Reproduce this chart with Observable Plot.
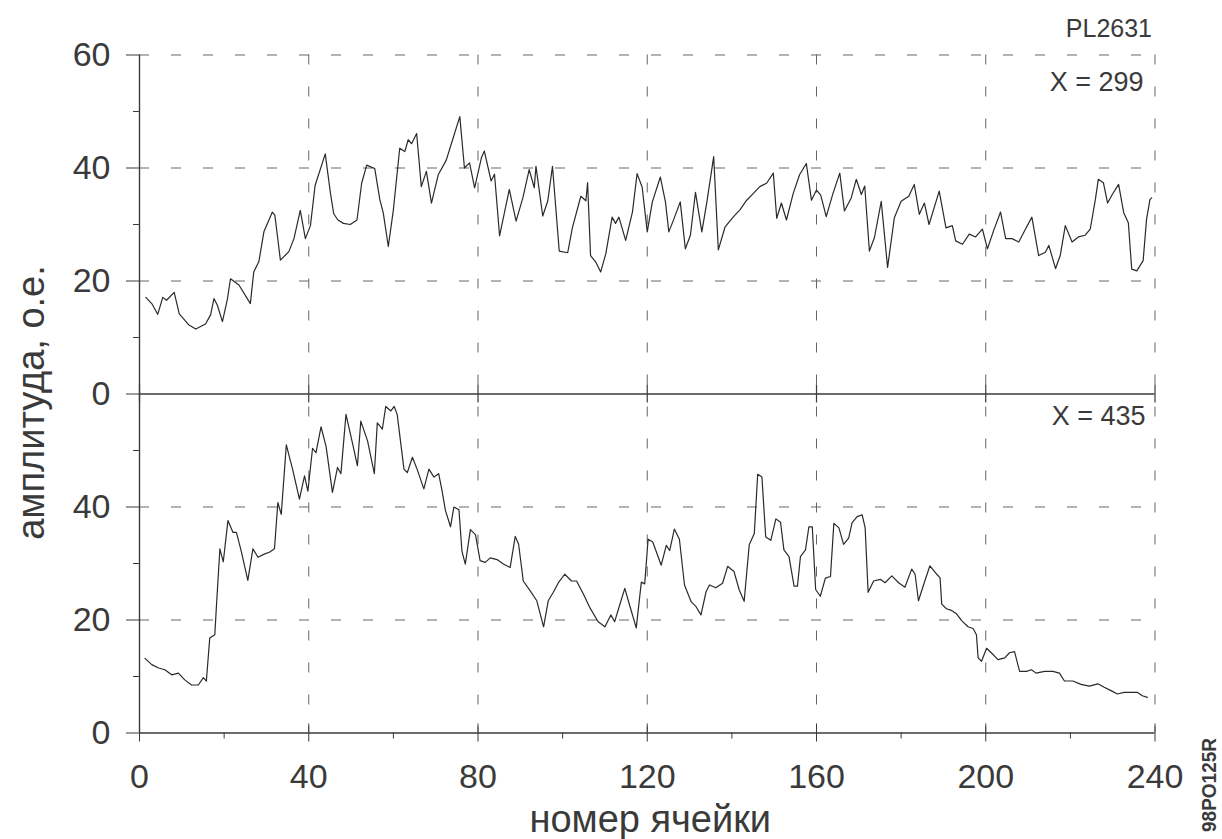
<!DOCTYPE html>
<html><head><meta charset="utf-8">
<script src="https://cdn.jsdelivr.net/npm/d3@7"></script>
<script src="https://cdn.jsdelivr.net/npm/@observablehq/plot@0.6"></script>
<style>
html,body{margin:0;padding:0;background:#fff;}
</style></head><body><div id="chart"></div>
<script>
// ---- data ----
const cellTop = [1.5,3,4.3,5.5,6.4,8.2,9.4,11.7,13.3,15.6,16.8,17.6,18.4,19.6,20.8,21.5,23.5,26.2,27,28.2,29.4,31.4,32,33.3,35.3,36.5,38,39.2,40.4,41.5,43.9,45.1,45.9,46.9,48.2,49.8,51.4,52.5,53.7,55.6,56.8,57.6,58.8,60,61.5,62.7,63.5,64.3,65.5,66.6,67.8,69,70.6,72.5,73.7,75.7,76.8,78,79.2,80.8,81.5,83.1,83.9,85.1,87.4,89,90.6,92.1,93.3,93.7,95.3,96.5,97.6,99.2,101.2,102.3,104.3,105.5,105.9,106.6,107.8,109,110.2,111.7,112.5,113.3,114.9,116.5,117.6,118.8,120,121.2,123.1,124.3,125.1,126.3,127.8,129,130.2,131.4,132.9,134.1,135.7,136.8,138.4,140.4,141.9,143.5,145.1,146.6,148.2,149.8,150.6,151.7,152.9,154.5,156,157.6,158.8,160,161,162.3,163.9,165.5,166.6,168.2,169.4,170.6,171.4,172.5,173.7,175.3,176.8,178.4,180,181.8,183.1,184.3,185.5,186.6,189,190.6,192.1,192.9,194.5,196.1,197.6,199.2,200.4,201.9,203.5,204.7,206.2,207.8,209.4,210.9,212.5,214.1,214.9,216.5,217.6,218.8,220.4,221.9,223.5,224.7,225.9,226.6,227.8,228.8,229.9,231.4,232.6,233.7,234.5,235.7,237.2,238,238.8,239.2];
const ampTop = [17.1,15.9,14.1,17.1,16.6,18.0,14.2,12.2,11.5,12.4,14.0,16.9,15.7,12.8,16.9,20.4,19.3,16.0,21.6,23.4,28.7,32.2,31.6,23.7,25.2,27.5,32.5,27.5,29.8,36.9,42.5,35.7,31.9,30.8,30.2,30.0,30.8,37.3,40.5,39.9,34.4,32.1,26.1,32.6,43.5,42.9,45.0,44.3,46.1,36.7,39.4,33.8,38.8,41.4,44.3,49.1,40.0,40.9,36.5,41.8,43.0,37.7,38.9,28.0,36.2,30.6,34.7,39.7,36.5,40.3,31.5,34.2,40.3,25.3,25.0,29.4,35.0,34.2,37.4,24.5,23.4,21.6,24.8,31.3,30.2,31.3,27.2,32.2,39.0,36.6,28.7,34.0,38.4,34.0,28.7,31.0,34.0,25.7,28.1,35.7,28.7,34.0,42.0,25.5,29.6,31.4,32.6,34.3,35.5,36.7,37.3,39.1,31.1,33.8,30.8,35.5,38.8,40.8,34.3,36.1,35.2,31.4,35.5,39.1,32.4,34.7,38.0,35.3,36.8,25.3,27.7,34.1,22.4,31.2,34.1,35.0,37.1,31.8,33.8,30.0,35.9,29.4,29.8,27.1,26.5,28.3,27.8,29.2,25.7,29.0,32.2,27.5,27.5,26.9,29.2,31.3,24.5,25.1,26.3,22.2,24.5,29.8,26.9,27.8,28.1,29.2,34.4,38.0,37.4,33.8,35.3,37.1,32.1,30.3,22.1,21.8,23.6,30.9,34.4,34.7];

const cellBottom = [1.3,2.9,4.5,6,7.6,9.2,10.7,12.3,13.9,15.1,15.8,16.6,17.8,18.2,19,19.8,20.9,22.1,22.9,24.1,25.6,26.8,28,29.6,30.7,31.9,32.7,33.5,34.7,36.2,37.8,39,39.8,40.9,41.7,42.9,44.1,45.6,46.8,47.6,48.8,50.4,51.5,52.3,53.9,55.5,56.2,57.4,58.2,59.4,60.2,60.9,62.5,63.3,64.5,65.6,67.2,68.4,69.6,70.7,71.5,72.3,73.5,74.3,75.5,76.2,77,78.2,79.4,80.5,81.7,82.9,84.5,86,87.6,88.8,89.6,90.7,92.3,93.9,95.5,96.6,97.8,99,100.5,102.1,103.3,104.9,106.5,108.4,110,111.4,112.3,113.5,114.7,115.8,117.4,118.6,119.4,120.2,121.3,123.3,124.5,125.3,126.4,127.6,128.8,130.4,131.5,132.7,133.9,134.7,136.2,137.8,139,140.5,141.7,142.9,144.1,145.3,146.1,147.1,148,149.2,150.4,151.5,152.3,153.5,154.7,155.5,156.2,157.4,158.2,159,159.8,160.9,162.1,163.3,164.1,165.3,166.4,167.6,168.4,169.6,170.8,171.5,172.2,173.5,175.1,176.2,177.8,179.4,180.9,182.5,183.3,184.1,185.6,186.8,188.4,189.2,189.6,190.7,191.9,193.1,194.3,195.8,197,197.8,198.2,199,200.2,201.3,202.9,204.5,205.6,206.8,208,209.6,210.8,211.9,213.9,215.9,217.4,218.6,220.6,222.5,224.5,226.5,228,229.6,231.1,232.7,234.3,235.8,237,238.2];
const ampBottom = [13.2,12.1,11.5,11.2,10.3,10.6,9.4,8.5,8.5,9.8,9.2,16.8,17.4,22.7,32.6,30.3,37.6,35.5,35.5,32.0,27.0,32.6,31.1,31.7,32.0,32.6,40.8,38.7,51.0,46.6,41.4,45.5,42.8,50.4,49.6,54.2,50.7,42.6,47.0,45.9,56.4,51.1,47.3,55.2,51.7,45.9,54.9,53.8,57.8,57.0,57.8,56.4,46.7,46.1,48.8,46.7,43.2,46.7,45.3,45.9,42.9,39.4,36.5,40.0,39.5,32.2,29.9,36.0,35.1,30.5,30.2,31.0,30.7,29.9,29.3,34.8,33.4,26.9,25.2,23.4,18.8,23.4,24.9,26.6,28.1,26.9,26.9,24.6,22.1,19.7,18.8,20.9,19.7,22.7,25.6,22.7,18.6,26.7,26.4,34.3,33.8,29.7,33.2,32.3,36.1,34.3,26.2,23.2,22.4,20.9,25.0,26.2,25.7,26.5,29.5,28.6,25.4,23.3,33.3,35.3,45.8,45.3,34.7,34.1,37.9,37.3,32.4,31.2,26.0,26.0,31.2,32.4,36.5,36.5,25.4,24.2,27.4,27.7,37.1,36.3,33.4,34.5,37.2,38.3,38.6,36.3,24.9,26.9,27.2,26.6,27.8,26.6,25.8,29.0,28.1,23.4,26.9,29.6,28.1,27.5,22.8,22.0,21.7,21.1,19.9,18.8,18.5,17.4,13.3,12.7,15.0,14.2,13.0,13.3,14.2,14.4,10.9,10.9,11.2,10.6,10.9,10.9,10.6,9.2,9.2,8.6,8.3,8.7,8.1,7.5,6.9,7.2,7.2,7.2,6.6,6.3];

const xTicks = [0, 40, 80, 120, 160, 200, 240];
const xMinorTicks = [20, 60, 100, 140, 180, 220];
const panelSpan = 60;                       // each panel shows 0..60
const yTicks = [0, 20, 40, 60, 80, 100, 120];   // stacked scale: bottom panel 0..60, top panel 60..120
const yTickLabels = ["0", "20", "40", "0", "20", "40", "60"];
const yMinorTicks = [10, 30, 50, 70, 90, 110];
const yGrid = [20, 40, 80, 100, 120];
const xGrid = [40, 80, 120, 160, 200, 240];
const topLabel = "X = 299";
const bottomLabel = "X = 435";
const sampleLabel = "PL2631";
const stampLabel = "98PO125R";
const xTitle = "номер ячейки";
const yTitle = "амплитуда, о.е.";

const topData = d3.zip(cellTop, ampTop).map(([x, a]) => ({x, a}));
const bottomData = d3.zip(cellBottom, ampBottom).map(([x, a]) => ({x, a}));

const ink = "#3a3a3a";
const font = "'Liberation Sans', Arial, Helvetica, sans-serif";

const chart = Plot.plot({
  width: 1222,
  height: 839,
  marginLeft: 139,
  marginRight: 67.5,
  marginTop: 54.5,
  marginBottom: 106.5,
  style: {fontFamily: font, background: "#fff", color: ink, overflow: "visible"},
  x: {domain: [0, 240]},
  y: {domain: [0, 2 * panelSpan]},
  marks: [
    // dashed grid
    Plot.gridY(yGrid, {stroke: "#666", strokeOpacity: 1, strokeWidth: 1, strokeDasharray: "10,22"}),
    Plot.gridX(xGrid, {stroke: "#666", strokeOpacity: 1, strokeWidth: 1, strokeDasharray: "10,22"}),
    // solid axis lines (bottom axis, panel divider, left axis)
    Plot.ruleY([0, panelSpan], {stroke: ink, strokeWidth: 1.6}),
    Plot.ruleX([0], {stroke: ink, strokeWidth: 1.4}),
    // y axis
    Plot.axisY(yTicks, {
      anchor: "left", tickSize: 13, tickPadding: 16, fontSize: 34, label: null,
      tickFormat: d => yTickLabels[yTicks.indexOf(d)], stroke: ink
    }),
    Plot.axisY(yMinorTicks, {anchor: "left", tickSize: 6, text: null, label: null, stroke: ink}),
    // x axis
    Plot.axisX(xTicks, {anchor: "bottom", tickSize: 9, tickPadding: 22, fontSize: 34, label: null, stroke: ink}),
    Plot.axisX(xTicks, {anchor: "bottom", tickSize: 9, dy: -9, text: null, label: null, stroke: ink}),
    Plot.axisX(xMinorTicks, {anchor: "bottom", tickSize: 6, text: null, label: null, stroke: ink}),
    // ticks across the panel divider
    Plot.ruleX(xTicks, {x: d => d, y1: () => panelSpan, y2: () => panelSpan, insetTop: -9, insetBottom: -9, stroke: ink, strokeWidth: 1.2}),
    // traces
    Plot.line(bottomData, {x: "x", y: "a", stroke: "#2a2a2a", strokeWidth: 1.2}),
    Plot.line(topData, {x: "x", y: d => d.a + panelSpan, stroke: "#2a2a2a", strokeWidth: 1.2}),
    // annotations
    Plot.text([sampleLabel], {frameAnchor: "top-right", text: d => d, textAnchor: "end", lineAnchor: "middle", dx: -3, dy: -26.5, fontSize: 25, fill: ink}),
    Plot.text([topLabel], {frameAnchor: "top-right", text: d => d, textAnchor: "end", lineAnchor: "middle", dx: -11.5, dy: 27.5, fontSize: 27, fill: ink}),
    Plot.text([bottomLabel], {frameAnchor: "right", text: d => d, textAnchor: "end", lineAnchor: "middle", dx: -9.5, dy: 22.5, fontSize: 27, fill: ink}),
    Plot.text([xTitle], {frameAnchor: "bottom", text: d => d, textAnchor: "middle", lineAnchor: "bottom", dx: 3, dy: 98.5, fontSize: 38, fill: ink}),
    Plot.text([yTitle], {frameAnchor: "left", text: d => d, textAnchor: "middle", lineAnchor: "bottom", rotate: -90, dx: -96, dy: 8.5, fontSize: 38, fill: ink}),
    Plot.text([stampLabel], {frameAnchor: "bottom-right", text: d => d, textAnchor: "middle", lineAnchor: "middle", rotate: -90, dx: 54, dy: 52, fontSize: 21, fontWeight: "bold", fill: ink})
  ]
});

document.getElementById("chart").appendChild(chart);
// condense the vertical stamp to its printed length
d3.select(chart).selectAll("text").filter(function() { return this.textContent === stampLabel; })
  .attr("textLength", 94).attr("lengthAdjust", "spacingAndGlyphs");
</script>
</body></html>
